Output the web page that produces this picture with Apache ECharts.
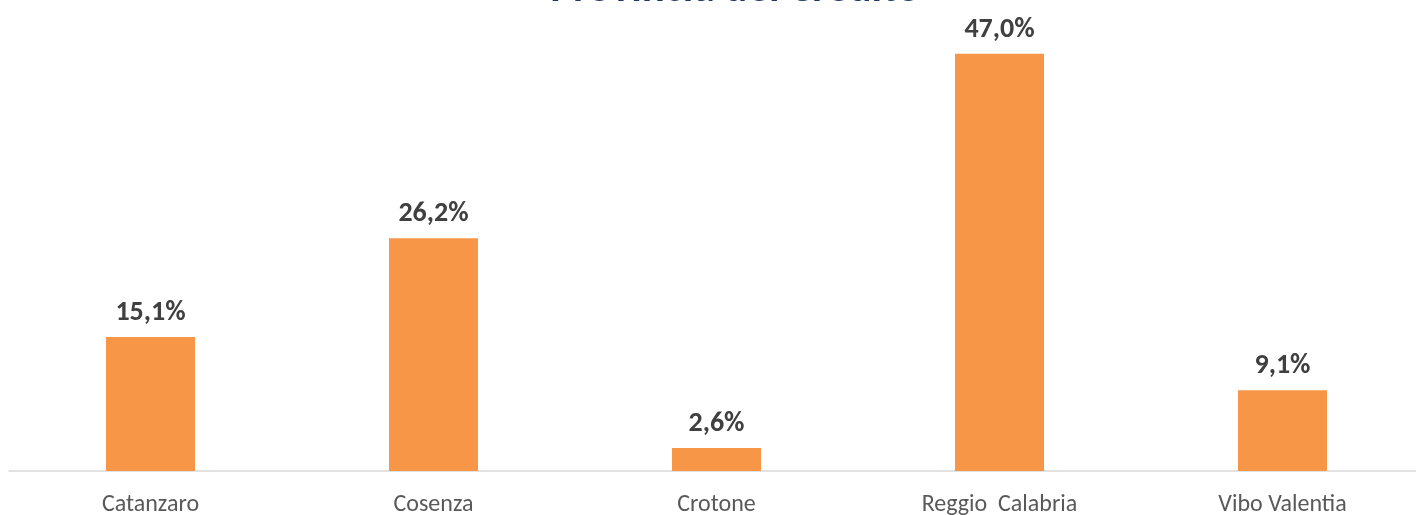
<!DOCTYPE html>
<html>
<head>
<meta charset="utf-8">
<script src="https://cdn.jsdelivr.net/npm/echarts@6/dist/echarts.min.js"></script>
<style>
  html, body { margin: 0; padding: 0; background: #fff; }
  #chart { width: 1416px; height: 515px; }
</style>
</head>
<body>
<div id="chart"></div>
<script>
// dati
var province = ['Catanzaro', 'Cosenza', 'Crotone', 'Reggio  Calabria', 'Vibo Valentia'];
var quote = [15.1, 26.2, 2.6, 47.0, 9.1];

var chart = echarts.init(document.getElementById('chart'));
chart.setOption({
    animation: false,
    title: {
        text: 'Provincia del Credito',
        left: 730,
        textAlign: 'center',
        top: -36,
        textStyle: {
            fontFamily: 'Carlito, Lato, sans-serif',
            fontSize: 43,
            fontWeight: 'bold',
            color: '#203864'
        }
    },
    grid: { left: 9, width: 1415, top: 27, bottom: 44, outerBoundsMode: 'none' },
    xAxis: {
        type: 'category',
        data: province,
        axisLine: { lineStyle: { color: '#d9d9d9', width: 1.5 } },
        axisTick: { show: false },
        axisLabel: {
            margin: 22,
            fontFamily: 'Carlito, Lato, sans-serif',
            fontSize: 24,
            color: '#595959'
        }
    },
    yAxis: {
        type: 'value',
        min: 0,
        max: 50,
        show: false,
        splitLine: { show: false }
    },
    series: [{
        type: 'bar',
        data: quote,
        barWidth: 89,
        itemStyle: { color: '#f79646' },
        label: {
            show: true,
            position: 'top',
            distance: 10,
            formatter: function (p) { return p.value.toFixed(1).replace('.', ',') + '%'; },
            fontFamily: 'Carlito, Lato, sans-serif',
            fontSize: 28,
            fontWeight: 'bold',
            color: '#404040'
        }
    }]
});
</script>
</body>
</html>
